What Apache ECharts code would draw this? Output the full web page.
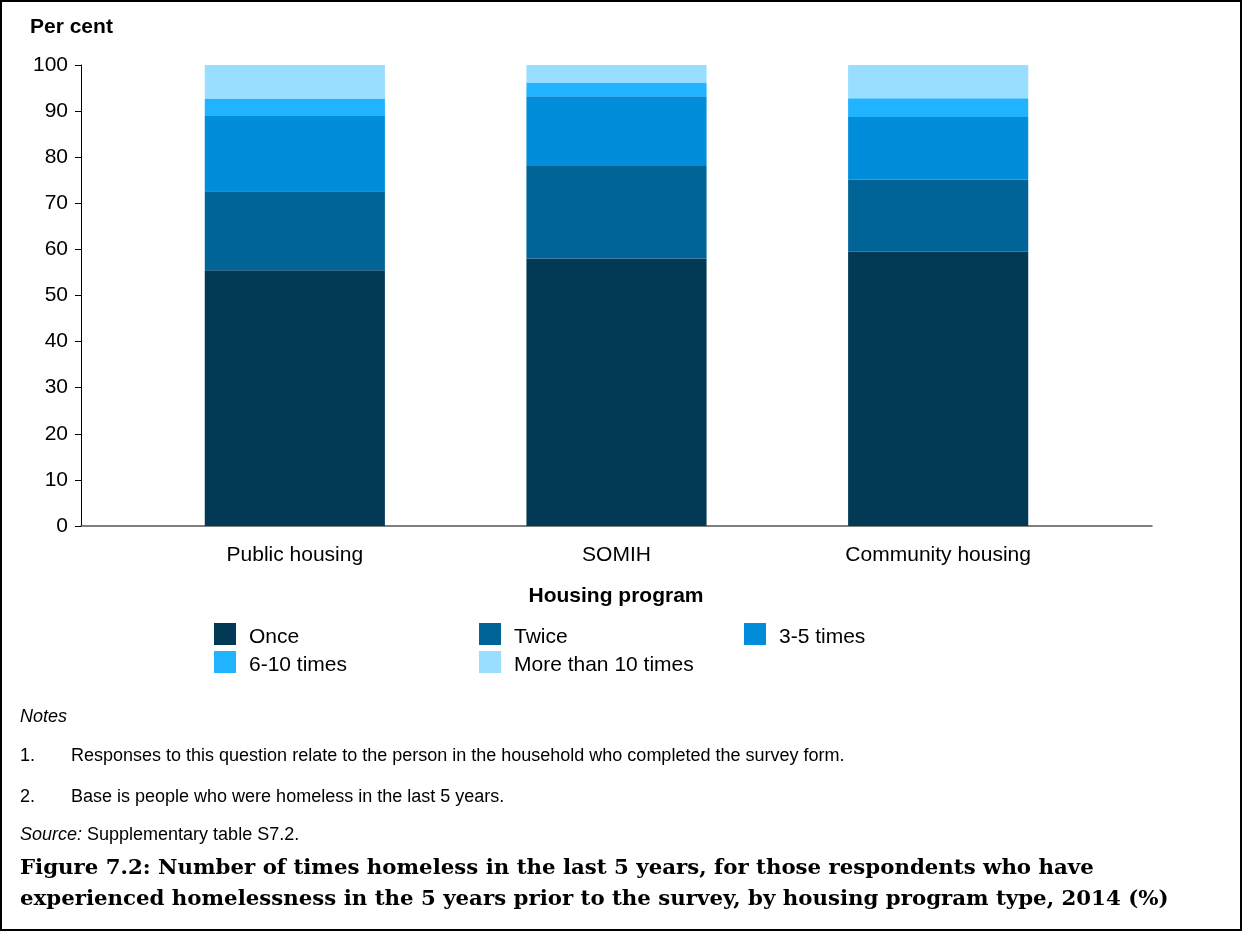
<!DOCTYPE html>
<html>
<head>
<meta charset="utf-8">
<script src="https://cdn.jsdelivr.net/npm/echarts@6/dist/echarts.min.js"></script>
<style>
  html, body { margin: 0; padding: 0; background: #fff; }
  #wrap { position: relative; width: 1242px; height: 931px; }
  #chart { width: 1242px; height: 931px; }
  #frame { position: absolute; left: 0; top: 0; width: 1242px; height: 931px; box-sizing: border-box; border: 2px solid #000; pointer-events: none; }
</style>
</head>
<body>
<div id="wrap">
  <div id="chart"></div>
  <div id="frame"></div>
</div>
<script>
// housing programs
var categories = ['Public housing', 'SOMIH', 'Community housing'];

// per cent of respondents, by number of times homeless
var once = [55.5, 58.0, 59.5];
var twice = [17.1, 20.1, 15.6];
var threeToFive = [16.5, 15.1, 13.6];
var sixToTen = [3.5, 3.0, 4.1];
var moreThanTen = [7.4, 3.8, 7.2];

var seriesNames = ['Once', 'Twice', '3-5 times', '6-10 times', 'More than 10 times'];
var seriesValues = [once, twice, threeToFive, sixToTen, moreThanTen];
var seriesColors = ['#023a56', '#006596', '#028ddb', '#20b3ff', '#99ddff'];

var yTicks = { min: 0, max: 100, interval: 10 };

var chart = echarts.init(document.getElementById('chart'));

var font = 'Liberation Sans, Arial, sans-serif';
var serif = 'DejaVu Serif, Liberation Serif, serif';

var series = seriesNames.map(function (name, i) {
  return {
    name: name,
    type: 'bar',
    stack: 'total',
    xAxisIndex: 1,
    yAxisIndex: 1,
    barWidth: '56%',
    itemStyle: { color: seriesColors[i] },
    data: seriesValues[i]
  };
});

var legendBase = {
  orient: 'vertical',
  itemWidth: 22,
  itemHeight: 22,
  itemGap: 3,
  icon: 'rect',
  formatter: '{t|{name}}',
  textStyle: {
    fontFamily: font, fontSize: 21, color: '#000',
    rich: { t: { fontFamily: font, fontSize: 21, color: '#000', padding: [7, 0, 0, 8] } }
  },
  selectedMode: false,
  padding: 0
};

// plain text helper for the notes block
function note(text, left, top, extra) {
  return Object.assign({
    text: text, left: left, top: top, padding: 0,
    textStyle: { fontFamily: font, fontSize: 18, fontWeight: 'normal', color: '#000' }
  }, extra || {});
}

var option = {
  animation: false,
  textStyle: { fontFamily: font },
  title: [
    { text: 'Per cent', left: 30, top: 17, padding: 0, textStyle: { fontFamily: font, fontSize: 21, fontWeight: 'bold', color: '#000' } },
    { text: 'Housing program', left: 616, textAlign: 'center', top: 586, padding: 0, textStyle: { fontFamily: font, fontSize: 21, fontWeight: 'bold', color: '#000' } },
    note('Notes', 20, 708, { textStyle: { fontFamily: font, fontSize: 18, fontStyle: 'italic', fontWeight: 'normal', color: '#000' } }),
    note('1.', 20, 747),
    note('Responses to this question relate to the person in the household who completed the survey form.', 71, 747),
    note('2.', 20, 788),
    note('Base is people who were homeless in the last 5 years.', 71, 788),
    note('{i|Source:} Supplementary table S7.2.', 20, 826, {
      textStyle: {
        fontFamily: font, fontSize: 18, fontWeight: 'normal', color: '#000',
        rich: { i: { fontFamily: font, fontSize: 18, fontStyle: 'italic', color: '#000' } }
      }
    }),
    {
      text: 'Figure 7.2: Number of times homeless in the last 5 years, for those respondents who have\nexperienced homelessness in the 5 years prior to the survey, by housing program type, 2014 (%)',
      left: 20, top: 853, padding: 0,
      textStyle: { fontFamily: serif, fontSize: 21.3, fontWeight: 'bold', color: '#000', lineHeight: 31 }
    }
  ],
  legend: [
    Object.assign({}, legendBase, { left: 214, top: 623, data: ['Once', '6-10 times'] }),
    Object.assign({}, legendBase, { left: 479, top: 623, data: ['Twice', 'More than 10 times'] }),
    Object.assign({}, legendBase, { left: 744, top: 623, data: ['3-5 times'] })
  ],
  grid: [
    { left: 81, right: 90, top: 65, bottom: 405, containLabel: false },
    { left: 134, right: 143, top: 65, bottom: 405, containLabel: false }
  ],
  xAxis: [
    {
      gridIndex: 0, type: 'value', min: 0, max: 1,
      axisLine: { show: true, lineStyle: { color: '#555', width: 1.5 } },
      axisTick: { show: false }, axisLabel: { show: false }, splitLine: { show: false }
    },
    {
      gridIndex: 1, type: 'category', data: categories,
      axisLine: { show: false }, axisTick: { show: false },
      axisLabel: { color: '#000', fontSize: 21, fontFamily: font, margin: 19 }
    }
  ],
  yAxis: [
    {
      gridIndex: 0, type: 'value', min: yTicks.min, max: yTicks.max, interval: yTicks.interval,
      axisLine: { show: true, lineStyle: { color: '#000', width: 1 } },
      axisTick: { show: true, inside: false, length: 6, lineStyle: { color: '#000' } },
      axisLabel: { color: '#000', fontSize: 21, fontFamily: font, margin: 13 },
      splitLine: { show: false }
    },
    {
      gridIndex: 1, type: 'value', min: yTicks.min, max: yTicks.max, interval: yTicks.interval,
      show: false, splitLine: { show: false }
    }
  ],
  series: series
};

chart.setOption(option);
</script>
</body>
</html>
